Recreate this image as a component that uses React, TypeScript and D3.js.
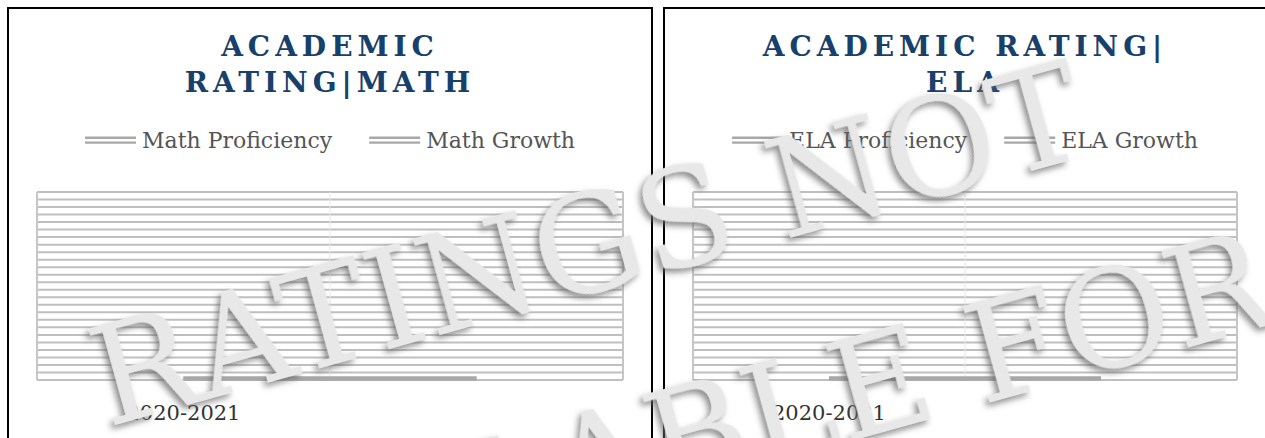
import React from "react";
import * as d3 from "d3";

// chart values
const categories = ["2020-2021", ""];
const mathProficiency = [1, 1];
const mathGrowth = [1, 1];
const elaProficiency = [1, 1];
const elaGrowth = [1, 1];
const yMax = 125;
const watermarkLines = ["RATINGS NOT", "AVAILABLE FOR"];

const W = 1265;
const H = 438;
const SERIF = "'DejaVu Serif', 'Liberation Serif', serif";

const ctx = document.createElement("canvas").getContext("2d");
const measure = (s: string, font: string) => {
  if (!ctx) return s.length * 12;
  ctx.font = font;
  return ctx.measureText(s).width;
};

type PanelProps = {
  left: number;
  chartWidth: number;
  titleLines: string[];
  labels: string[];
  series: number[][];
};

const Panel = ({ left, chartWidth, titleLines, labels, series }: PanelProps) => {
  const gridLeft = left + 29;
  const gridRight = left + chartWidth - 29;
  const cx = left + chartWidth / 2;

  const x = d3.scaleBand().domain(categories).range([gridLeft, gridRight]);
  const y = d3.scaleLinear().domain([0, yMax]).range([380, 192]);
  const line = d3
    .line<number>()
    .x((d, i) => (x(categories[i]) ?? 0) + x.bandwidth() / 2)
    .y((d) => y(d));

  // legend layout (centered)
  const iconW = 51;
  const textW = labels.map((l) => measure(l, `22px ${SERIF}`));
  const itemGap = 37;
  const totalW = textW.reduce((a, b) => a + b + iconW + 6, 0) + itemGap;
  let lx = cx - totalW / 2;

  return (
    <g>
      <rect x={left} y={8} width={644} height={H} fill="#fff" stroke="#000" strokeWidth={2} />
      {titleLines.map((t, i) => (
        <text
          key={t}
          x={cx}
          y={56 + i * 36}
          textAnchor="middle"
          fontFamily={SERIF}
          fontWeight="bold"
          fontSize={28}
          letterSpacing={5}
          fill="#17406b"
        >
          {t}
        </text>
      ))}
      {labels.map((l, i) => {
        const x0 = lx;
        lx += iconW + 6 + textW[i] + itemGap;
        return (
          <g key={l}>
            <line x1={x0} x2={x0 + iconW} y1={137.8} y2={137.8} stroke="#a8a8a8" strokeWidth={2.4} />
            <line x1={x0} x2={x0 + iconW} y1={142.6} y2={142.6} stroke="#a8a8a8" strokeWidth={2.4} />
            <text x={x0 + iconW + 6} y={148} fontFamily={SERIF} fontSize={22} fill="#555">
              {l}
            </text>
          </g>
        );
      })}
      {y.ticks(25).map((t) => (
        <line key={t} x1={gridLeft} x2={gridRight} y1={y(t)} y2={y(t)} stroke="#bfbfbf" strokeWidth={2} />
      ))}
      <line x1={gridLeft} x2={gridLeft} y1={y(yMax)} y2={y(0)} stroke="#c6c6c6" strokeWidth={2} />
      <line x1={gridRight} x2={gridRight} y1={y(yMax)} y2={y(0)} stroke="#c6c6c6" strokeWidth={2} />
      <line
        x1={x(categories[1]) ?? 0}
        x2={x(categories[1]) ?? 0}
        y1={y(yMax)}
        y2={y(0)}
        stroke="#e8e8e8"
        strokeWidth={1}
      />
      {series.map((s, i) => (
        <path key={i} d={line(s) ?? ""} fill="none" stroke="#a8a8a8" strokeWidth={4} />
      ))}
      {categories.map((c) => (
        <text
          key={c}
          x={(x(c) ?? 0) + x.bandwidth() / 2}
          y={420}
          textAnchor="middle"
          fontFamily={SERIF}
          fontSize={21}
          fill="#333"
        >
          {c}
        </text>
      ))}
    </g>
  );
};

export default function App() {
  return (
    <svg
      width={W}
      height={H}
      style={{ position: "absolute", left: 0, top: 0, background: "#fff" }}
    >
      <defs>
        <filter id="emboss" x="-10%" y="-10%" width="120%" height="120%">
          <feDropShadow dx={-4} dy={3} stdDeviation={3} floodColor="#666" floodOpacity={0.75} />
        </filter>
      </defs>
      <Panel
        left={8}
        chartWidth={644}
        titleLines={["ACADEMIC", "RATING|MATH"]}
        labels={["Math Proficiency", "Math Growth"]}
        series={[mathProficiency, mathGrowth]}
      />
      <Panel
        left={664}
        chartWidth={602}
        titleLines={["ACADEMIC RATING|", "ELA"]}
        labels={["ELA Proficiency", "ELA Growth"]}
        series={[elaProficiency, elaGrowth]}
      />
      <g transform="translate(108,427) rotate(-15.5)" filter="url(#emboss)">
        {watermarkLines.map((t, i) => (
          <text
            key={t}
            x={i * -5}
            y={i * 212}
            fontFamily={SERIF}
            fontSize={136}
            fill="#e8e8e8"
          >
            {t}
          </text>
        ))}
      </g>
    </svg>
  );
}
